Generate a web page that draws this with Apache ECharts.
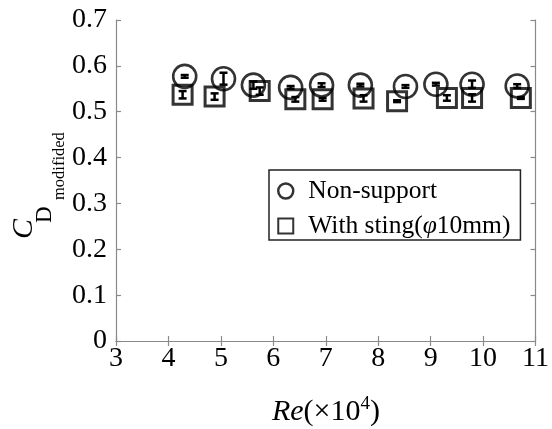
<!DOCTYPE html>
<html>
<head>
<meta charset="utf-8">
<script src="https://cdn.jsdelivr.net/npm/echarts@6/dist/echarts.min.js"></script>
<style>html,body{margin:0;padding:0;background:#fff;}#c{width:552px;height:429px;}</style>
</head>
<body>
<div id="c"></div>
<script>
var xTicks = [3, 4, 5, 6, 7, 8, 9, 10, 11];
var yTicks = [0, 0.1, 0.2, 0.3, 0.4, 0.5, 0.6, 0.7];
var seriesNames = ['Non-support', 'With sting(\u03c610mm)'];
var circleX = [4.31, 5.05, 5.62, 6.33, 6.92, 7.66, 8.52, 9.10, 9.79, 10.65];
var circleY = [0.577, 0.572, 0.558, 0.553, 0.558, 0.558, 0.555, 0.560, 0.560, 0.556];
var circleErr = [0.003, 0.013, 0.008, 0.003, 0.004, 0.003, 0.003, 0.003, 0.008, 0.004];
var squareX = [4.27, 4.88, 5.74, 6.42, 6.94, 7.72, 8.36, 9.31, 9.79, 10.72];
var squareY = [0.537, 0.533, 0.545, 0.527, 0.527, 0.529, 0.523, 0.530, 0.530, 0.530];
var squareErr = [0.008, 0.007, 0.008, 0.005, 0.003, 0.007, 0.002, 0.006, 0.008, 0.002];

var FONT = '"Liberation Serif","Times New Roman",serif';
var AX = '#8a8a8a';

function pts(xs, ys) { return xs.map(function (x, i) { return [x, ys[i]]; }); }
function errData(xs, ys, es) { return xs.map(function (x, i) { return [x, ys[i] - es[i], ys[i] + es[i]]; }); }

function errRender(params, api) {
  var lo = api.coord([api.value(0), api.value(1)]);
  var hi = api.coord([api.value(0), api.value(2)]);
  var w = 4;
  var st = { stroke: '#000', lineWidth: 2.5 };
  return {
    type: 'group',
    children: [
      { type: 'line', shape: { x1: lo[0], y1: lo[1], x2: hi[0], y2: hi[1] }, style: st },
      { type: 'line', shape: { x1: lo[0] - w, y1: lo[1], x2: lo[0] + w, y2: lo[1] }, style: st },
      { type: 'line', shape: { x1: hi[0] - w, y1: hi[1], x2: hi[0] + w, y2: hi[1] }, style: st }
    ]
  };
}

var chart = echarts.init(document.getElementById('c'), null, { renderer: 'canvas' });
var axisCommon = {
  type: 'value',
  axisLine: { show: true, lineStyle: { color: AX, width: 1.2 } },
  axisTick: { show: true, inside: true, length: 5, lineStyle: { color: AX, width: 1.2 } },
  splitLine: { show: false }
};
chart.setOption({
  animation: false,
  backgroundColor: '#fff',
  textStyle: { fontFamily: FONT },
  grid: { left: 116, right: 15, top: 20, bottom: 88, containLabel: false },
  xAxis: [
    Object.assign({}, axisCommon, {
      min: xTicks[0], max: xTicks[xTicks.length - 1], interval: 1,
      axisLabel: { color: '#000', fontSize: 28, fontFamily: FONT, margin: 4 }
    }),
    Object.assign({}, axisCommon, {
      position: 'top', min: xTicks[0], max: xTicks[xTicks.length - 1], interval: 1,
      axisLabel: { show: false }
    })
  ],
  yAxis: [
    Object.assign({}, axisCommon, {
      min: yTicks[0], max: yTicks[yTicks.length - 1], interval: 0.1,
      axisLabel: { color: '#000', fontSize: 28, fontFamily: FONT, margin: 9,
        formatter: function (v) { return v === 0 ? '0' : v.toFixed(1); } }
    }),
    Object.assign({}, axisCommon, {
      position: 'right', min: yTicks[0], max: yTicks[yTicks.length - 1], interval: 0.1,
      axisLabel: { show: false }
    })
  ],
  legend: {
    show: true,
    left: 269, top: 170,
    orient: 'vertical',
    itemWidth: 15, itemHeight: 15,
    itemGap: 9,
    padding: [8, 10, 1, 8],
    borderColor: '#222', borderWidth: 1.5,
    backgroundColor: '#fff',
    formatter: function (name) {
      if (name === seriesNames[1]) return 'With sting({it|\u03c6}10mm)';
      return name;
    },
    textStyle: {
      fontFamily: FONT, fontSize: 25.5, color: '#000', lineHeight: 25, padding: [0, 0, 0, 10],
      rich: { it: { fontFamily: FONT, fontStyle: 'italic', fontSize: 25.5, color: '#000', lineHeight: 25 } }
    },
    data: [
      { name: seriesNames[0], icon: 'circle', itemStyle: { color: '#fff', borderColor: '#000', borderWidth: 2.5 } },
      { name: seriesNames[1], icon: 'rect', itemStyle: { color: '#fff', borderColor: '#000', borderWidth: 2 } }
    ]
  },
  series: [
    {
      name: seriesNames[1], type: 'scatter', symbol: 'rect', symbolSize: 19,
      data: pts(squareX, squareY), z: 3,
      itemStyle: { color: 'rgba(0,0,0,0)', borderColor: '#000', borderWidth: 3 }
    },
    {
      name: 'errS', type: 'custom', renderItem: errRender,
      data: errData(squareX, squareY, squareErr), z: 4
    },
    {
      name: seriesNames[0], type: 'scatter', symbol: 'circle', symbolSize: 23,
      data: pts(circleX, circleY), z: 3,
      itemStyle: { color: 'rgba(0,0,0,0)', borderColor: '#000', borderWidth: 2.6 }
    },
    {
      name: 'errC', type: 'custom', renderItem: errRender,
      data: errData(circleX, circleY, circleErr), z: 4
    }
  ],
  graphic: [
    { type: 'text', x: 9, y: 239, rotation: Math.PI / 2,
      style: { text: 'C', font: 'italic 30px ' + FONT, fill: '#000', textAlign: 'left', textVerticalAlign: 'top' } },
    { type: 'text', x: 33, y: 223, rotation: Math.PI / 2,
      style: { text: 'D', font: '23px ' + FONT, fill: '#000', textAlign: 'left', textVerticalAlign: 'top' } },
    { type: 'text', x: 51, y: 200, rotation: Math.PI / 2,
      style: { text: 'modifided', font: '16.5px ' + FONT, fill: '#000', textAlign: 'left', textVerticalAlign: 'top' } },
    { type: 'text', x: 326, y: 411,
      style: {
        text: '{i|Re}{n|(\u00d710}{s|4}{n|)}',
        textAlign: 'center', textVerticalAlign: 'middle',
        rich: {
          i: { font: 'italic 30px ' + FONT, fill: '#000', verticalAlign: 'bottom', lineHeight: 32 },
          n: { font: '30px ' + FONT, fill: '#000', verticalAlign: 'bottom', lineHeight: 32 },
          s: { font: '19px ' + FONT, fill: '#000', verticalAlign: 'top', lineHeight: 32 }
        }
      } }
  ]
});
</script>
</body>
</html>
